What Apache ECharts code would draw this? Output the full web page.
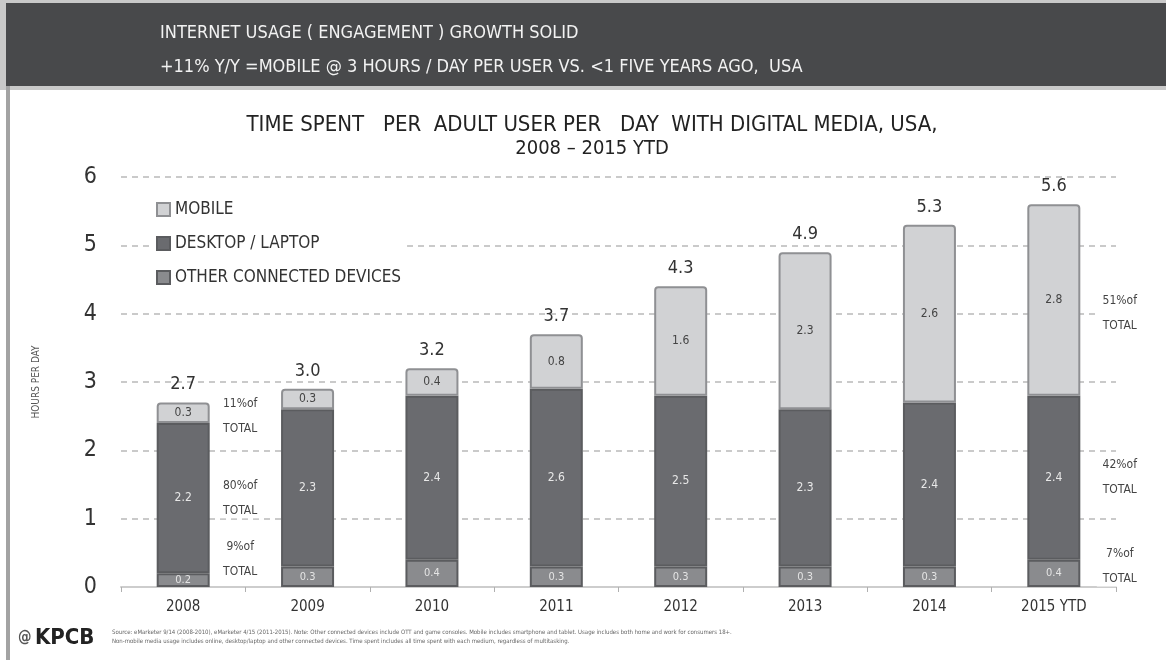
<!DOCTYPE html>
<html>
<head>
<meta charset="utf-8">
<script src="https://cdn.jsdelivr.net/npm/echarts@6/dist/echarts.min.js"></script>
<style>
html,body{margin:0;padding:0;background:#fff;}
#chart{width:1166px;height:660px;}
</style>
</head>
<body>
<div id="chart"></div>
<script>
// ---- data ----
const years = ['2008', '2009', '2010', '2011', '2012', '2013', '2014', '2015 YTD'];
const mobile = [0.3, 0.3, 0.4, 0.8, 1.6, 2.3, 2.6, 2.8];
const desktop = [2.2, 2.3, 2.4, 2.6, 2.5, 2.3, 2.4, 2.4];
const other = [0.2, 0.3, 0.4, 0.3, 0.3, 0.3, 0.3, 0.4];
const totals = ['2.7', '3.0', '3.2', '3.7', '4.3', '4.9', '5.3', '5.6'];
const seriesNames = ['MOBILE', 'DESKTOP / LAPTOP', 'OTHER CONNECTED DEVICES'];
const share2008 = ['11%of', '80%of', '9%of'];
const share2008At = [2.5, 1.3, 0.4];
const share2015 = ['51%of', '42%of', '7%of'];
const share2015At = [4.0, 1.6, 0.3];
const yTicks = [0, 1, 2, 3, 4, 5, 6];
const headerLines = [
  'INTERNET USAGE ( ENGAGEMENT ) GROWTH SOLID',
  '+11% Y/Y =MOBILE @ 3 HOURS / DAY PER USER VS. <1 FIVE YEARS AGO,  USA'
];
const titleLines = [
  'TIME SPENT   PER  ADULT USER PER   DAY  WITH DIGITAL MEDIA, USA,',
  '2008 – 2015 YTD'
];
const sourceLines = [
  'Source: eMarketer 9/14 (2008-2010), eMarketer 4/15 (2011-2015). Note: Other connected devices include OTT and game consoles. Mobile includes smartphone and tablet. Usage includes both home and work for consumers 18+.',
  'Non-mobile media usage includes online, desktop/laptop and other connected devices. Time spent includes all time spent with each medium, regardless of multitasking.'
];

const FONT = '"Liberation Sans Narrow", "DejaVu Sans Condensed", "Open Sans", sans-serif';
const chart = echarts.init(document.getElementById('chart'), null, {renderer: 'canvas'});

const colMobile = '#d1d2d4', colDesk = '#6a6b6f', colOther = '#8a8b8e';

const option = {
  animation: false,
  backgroundColor: '#fff',
  textStyle: {fontFamily: FONT},
  grid: {left: 121, right: 50, top: 177, bottom: 73},
  legend: {
    orient: 'vertical', left: 150, top: 201,
    data: seriesNames, selectedMode: false,
    itemWidth: 13, itemHeight: 13, itemGap: 17,
    backgroundColor: '#fff', padding: [0, 6],
    textStyle: {fontFamily: FONT, fontSize: 17, color: '#333'},
    icon: 'rect'
  },
  xAxis: {
    type: 'category', data: years,
    axisLine: {lineStyle: {color: '#cdcdcd', width: 2}},
    axisTick: {show: true, length: 5, lineStyle: {color: '#b0b0b0'}},
    axisLabel: {fontFamily: FONT, fontSize: 15, color: '#333', margin: 13}
  },
  yAxis: {
    type: 'value', min: 0, max: 6, interval: 1,
    name: 'HOURS PER DAY', nameLocation: 'middle', nameRotate: 90, nameGap: 80,
    nameTextStyle: {fontFamily: FONT, fontSize: 10, color: '#555'},
    axisLine: {show: false}, axisTick: {show: false},
    axisLabel: {fontFamily: FONT, fontSize: 23, color: '#333', margin: 24,
      formatter: v => yTicks.indexOf(v) >= 0 ? String(v) : ''},
    splitLine: {lineStyle: {color: '#b9b9b9', type: [6, 5], width: 1.5}}
  },
  series: [
    {
      name: seriesNames[2], type: 'bar', stack: 't', data: other, barWidth: 53,
      itemStyle: {color: colOther, borderColor: '#5b5c5f', borderWidth: 2},
      label: {show: true, position: 'inside', fontFamily: FONT, fontSize: 11, color: '#e4e4e4', formatter: p => p.value.toFixed(1)}
    },
    {
      name: seriesNames[1], type: 'bar', stack: 't', data: desktop, barWidth: 53,
      itemStyle: {color: colDesk, borderColor: '#5b5c5f', borderWidth: 2},
      label: {show: true, position: 'inside', fontFamily: FONT, fontSize: 12, color: '#e8e8e8', formatter: p => p.value.toFixed(1)}
    },
    {
      name: seriesNames[0], type: 'bar', stack: 't', data: mobile, barWidth: 53,
      itemStyle: {color: colMobile, borderColor: '#8f9093', borderWidth: 2, borderRadius: [3, 3, 0, 0]},
      label: {show: true, position: 'inside', fontFamily: FONT, fontSize: 12, color: '#444', formatter: p => p.value.toFixed(1)},
      z: 3
    },
    {
      name: 'totals', type: 'bar', stack: 't', data: mobile.map(() => 0), barWidth: 53,
      itemStyle: {color: 'transparent'}, legendHoverLink: false, silent: true,
      label: {show: true, position: 'top', distance: 9, fontFamily: FONT, fontSize: 18, color: '#333',
        formatter: p => totals[p.dataIndex]}
    }
  ],
  graphic: []
};
chart.setOption(option);

// annotations and frame
const g = [];
g.push({type: 'rect', shape: {x: 0, y: 0, width: 1166, height: 90}, style: {fill: '#c9c9c9'}, z: 0});
g.push({type: 'rect', shape: {x: 6, y: 3, width: 1160, height: 83}, style: {fill: '#48494b'}, z: 1});
g.push({type: 'rect', shape: {x: 6, y: 86, width: 4, height: 574}, style: {fill: '#a3a3a3'}, z: 1});
headerLines.forEach((t, i) => g.push({type: 'text', x: 160, y: 33 + i * 34, z: 2,
  style: {text: t, fill: '#f2f2f2', font: '18px ' + FONT, textVerticalAlign: 'middle'}}));
titleLines.forEach((t, i) => g.push({type: 'text', x: 592, y: 125 + i * 24, z: 2,
  style: {text: t, fill: '#222', font: (i === 0 ? '22px ' : '20px ') + FONT, textAlign: 'center', textVerticalAlign: 'middle'}}));

function addShares(idx, texts, anchors, dx) {
  texts.forEach((t, i) => {
    const p = chart.convertToPixel({gridIndex: 0}, [idx, anchors[i]]);
    g.push({type: 'rect', shape: {x: p[0] + dx - 23, y: p[1] - 20, width: 46, height: 40}, style: {fill: '#fff'}, z: 5});
    g.push({type: 'text', x: p[0] + dx, y: p[1], z: 6,
      style: {text: t + '\nTOTAL', fill: '#444', font: '12px ' + FONT, lineHeight: 25, textAlign: 'center', textVerticalAlign: 'middle'}});
  });
}
addShares(0, share2008, share2008At, 57);
addShares(7, share2015, share2015At, 66);

g.push({type: 'text', x: 18, y: 638, z: 2, style: {text: '@', fill: '#555', font: 'bold 15px ' + FONT, textVerticalAlign: 'middle'}});
g.push({type: 'text', x: 35, y: 638, z: 2, style: {text: 'KPCB', fill: '#222', font: 'bold 22px ' + FONT, textVerticalAlign: 'middle'}});
sourceLines.forEach((t, i) => g.push({type: 'text', x: 112, y: 632 + i * 9, z: 2,
  style: {text: t, fill: '#666', font: '6px ' + FONT, textVerticalAlign: 'middle'}}));

chart.setOption({graphic: g});
</script>
</body>
</html>
